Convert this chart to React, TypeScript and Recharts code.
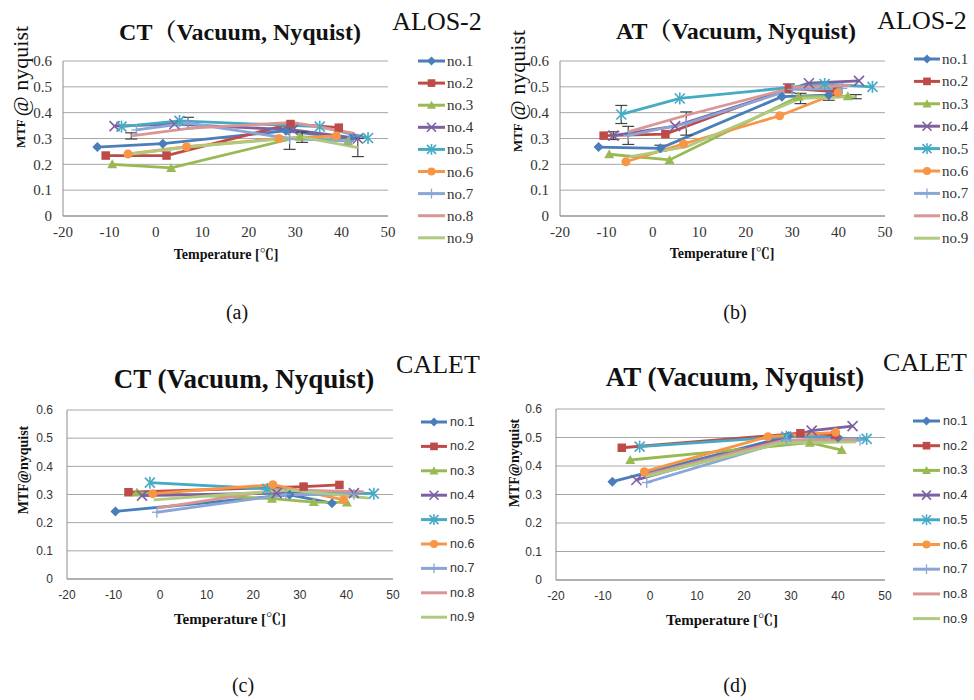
import React from "react";
import { LineChart, Line, XAxis, YAxis, CartesianGrid, ErrorBar } from "recharts";

type Pt = { x: number; y: number; e?: number };

const seriesNames = ["no.1", "no.2", "no.3", "no.4", "no.5", "no.6", "no.7", "no.8", "no.9"];
const seriesColors = ["#4A7EBB", "#BE4B48", "#98B954", "#7D60A0", "#46AAC5", "#F79646", "#8AA6D6", "#D99694", "#AFCA7E"];
const seriesMarkers = ["diamond", "square", "triangle", "cross", "star", "circle", "plus", "none", "none"];
const xTicks = [-20, -10, 0, 10, 20, 30, 40, 50];
const yTicks = [0, 0.1, 0.2, 0.3, 0.4, 0.5, 0.6];

// (a) CT, ALOS-2
const ctAlos: Pt[][] = [
  [{ x: -12.6, y: 0.267 }, { x: 1.5, y: 0.28 }, { x: 28, y: 0.33 }, { x: 42, y: 0.3 }],
  [{ x: -10.8, y: 0.234 }, { x: 2.3, y: 0.234 }, { x: 29, y: 0.356 }, { x: 39.4, y: 0.342 }],
  [{ x: -9.4, y: 0.2 }, { x: 3.3, y: 0.186 }, { x: 31, y: 0.307 }, { x: 41.4, y: 0.29 }],
  [{ x: -8.9, y: 0.348 }, { x: 4, y: 0.356 }, { x: 29.5, y: 0.333 }, { x: 43.5, y: 0.3 }],
  [{ x: -7.4, y: 0.346 }, { x: 5.1, y: 0.368 }, { x: 35.3, y: 0.346 }, { x: 45.7, y: 0.302 }],
  [{ x: -6, y: 0.24 }, { x: 6.6, y: 0.268 }, { x: 26.5, y: 0.3 }, { x: 38.9, y: 0.31 }],
  [{ x: -4.2, y: 0.333 }, { x: 6.9, y: 0.36, e: 0.022 }, { x: 28.8, y: 0.3, e: 0.042 }, { x: 41.7, y: 0.29 }],
  [{ x: -5.3, y: 0.31, e: 0.012 }, { x: 7.6, y: 0.34 }, { x: 29.5, y: 0.362 }, { x: 42.8, y: 0.32 }],
  [{ x: -5.3, y: 0.24 }, { x: 7.3, y: 0.268 }, { x: 31.5, y: 0.305, e: 0.02 }, { x: 43.5, y: 0.265, e: 0.035 }],
];

// (b) AT, ALOS-2
const atAlos: Pt[][] = [
  [{ x: -11.7, y: 0.267 }, { x: 1.6, y: 0.262, e: 0.012 }, { x: 27.8, y: 0.462 }, { x: 37.9, y: 0.468, e: 0.02 }],
  [{ x: -10.6, y: 0.311 }, { x: 2.7, y: 0.317 }, { x: 29.3, y: 0.494, e: 0.017 }, { x: 39.7, y: 0.481 }],
  [{ x: -9.4, y: 0.239 }, { x: 3.6, y: 0.217 }, { x: 31.4, y: 0.462 }, { x: 42, y: 0.464 }],
  [{ x: -8.5, y: 0.311, e: 0.015 }, { x: 4.8, y: 0.348 }, { x: 33.6, y: 0.514 }, { x: 44.4, y: 0.523 }],
  [{ x: -6.8, y: 0.393, e: 0.035 }, { x: 5.8, y: 0.455 }, { x: 37, y: 0.511 }, { x: 47.3, y: 0.5 }],
  [{ x: -5.8, y: 0.21 }, { x: 6.6, y: 0.279 }, { x: 27.3, y: 0.388 }, { x: 39.9, y: 0.477 }],
  [{ x: -5.3, y: 0.312, e: 0.035 }, { x: 7.2, y: 0.358, e: 0.045 }, { x: 30, y: 0.49 }, { x: 40.8, y: 0.494 }],
  [{ x: -5.3, y: 0.326 }, { x: 7.2, y: 0.39 }, { x: 30.4, y: 0.498 }, { x: 42.6, y: 0.507 }],
  [{ x: -4.9, y: 0.23 }, { x: 7.3, y: 0.268 }, { x: 31.8, y: 0.455, e: 0.02 }, { x: 43.7, y: 0.462, e: 0.008 }],
];

// (c) CT, CALET
const ctCalet: Pt[][] = [
  [{ x: -9.6, y: 0.24 }, { x: 27.8, y: 0.299 }, { x: 36.9, y: 0.269 }],
  [{ x: -6.8, y: 0.308 }, { x: 30.8, y: 0.328 }, { x: 38.5, y: 0.334 }],
  [{ x: -5, y: 0.307 }, { x: 24, y: 0.285 }, { x: 33, y: 0.273 }, { x: 40.1, y: 0.272 }],
  [{ x: -3.9, y: 0.296 }, { x: 25, y: 0.305 }, { x: 41.6, y: 0.305 }],
  [{ x: -2.2, y: 0.342 }, { x: 23, y: 0.32 }, { x: 45.9, y: 0.303 }],
  [{ x: -1.6, y: 0.303 }, { x: 24.2, y: 0.335 }, { x: 39.4, y: 0.281 }],
  [{ x: -0.7, y: 0.237 }, { x: 27, y: 0.3 }, { x: 41.6, y: 0.3 }],
  [{ x: -0.7, y: 0.252 }, { x: 25, y: 0.316 }, { x: 43.7, y: 0.31 }],
  [{ x: -1.4, y: 0.281 }, { x: 28, y: 0.316 }, { x: 44.8, y: 0.287 }],
];

// (d) AT, CALET
const atCalet: Pt[][] = [
  [{ x: -8, y: 0.345 }, { x: 29.5, y: 0.505 }, { x: 40, y: 0.5 }],
  [{ x: -6, y: 0.464 }, { x: 32, y: 0.515 }, { x: 39.4, y: 0.509 }],
  [{ x: -4.2, y: 0.421 }, { x: 34, y: 0.482 }, { x: 40.8, y: 0.456 }],
  [{ x: -2.9, y: 0.351 }, { x: 34.4, y: 0.524 }, { x: 43.1, y: 0.54 }],
  [{ x: -2.2, y: 0.468 }, { x: 29, y: 0.503 }, { x: 46.1, y: 0.495 }],
  [{ x: -1.2, y: 0.38 }, { x: 25.1, y: 0.503 }, { x: 39.5, y: 0.518 }],
  [{ x: -0.7, y: 0.342 }, { x: 29.1, y: 0.49 }, { x: 44.7, y: 0.49 }],
  [{ x: -1, y: 0.368 }, { x: 28.4, y: 0.49 }, { x: 43.9, y: 0.494 }],
  [{ x: -1, y: 0.363 }, { x: 27.7, y: 0.48 }, { x: 43.9, y: 0.485 }],
];

const SERIF = "'Liberation Serif', 'Noto Serif CJK JP', serif";
const SANS = "'Liberation Sans', Arial, sans-serif";

function Marker({ kind, cx, cy, color, s }: { kind: string; cx: number; cy: number; color: string; s: number }) {
  switch (kind) {
    case "diamond":
      return <path d={`M${cx},${cy - s} L${cx + s},${cy} L${cx},${cy + s} L${cx - s},${cy} Z`} fill={color} />;
    case "square":
      return <rect x={cx - s * 0.85} y={cy - s * 0.85} width={s * 1.7} height={s * 1.7} fill={color} />;
    case "triangle":
      return <path d={`M${cx},${cy - s} L${cx + s},${cy + s * 0.8} L${cx - s},${cy + s * 0.8} Z`} fill={color} />;
    case "cross":
      return (
        <g stroke={color} strokeWidth={1.6}>
          <line x1={cx - s} y1={cy - s} x2={cx + s} y2={cy + s} />
          <line x1={cx - s} y1={cy + s} x2={cx + s} y2={cy - s} />
        </g>
      );
    case "star":
      return (
        <g stroke={color} strokeWidth={1.6}>
          <line x1={cx - s} y1={cy - s} x2={cx + s} y2={cy + s} />
          <line x1={cx - s} y1={cy + s} x2={cx + s} y2={cy - s} />
          <line x1={cx} y1={cy - s * 1.2} x2={cx} y2={cy + s * 1.2} />
        </g>
      );
    case "circle":
      return <circle cx={cx} cy={cy} r={s * 0.9} fill={color} />;
    case "plus":
      return (
        <g stroke={color} strokeWidth={1.3}>
          <line x1={cx - s} y1={cy} x2={cx + s} y2={cy} />
          <line x1={cx} y1={cy - s * 1.1} x2={cx} y2={cy + s * 1.1} />
        </g>
      );
    default:
      return null;
  }
}

type Rect = { l: number; t: number; r: number; b: number };

function Panel({ data, plot, serif }: { data: Pt[][]; plot: Rect; serif: boolean }) {
  const w = plot.r - plot.l + 50;
  const h = plot.b - plot.t + 40;
  const tickStyle = serif
    ? { fontFamily: SERIF, fontSize: 15, fill: "#333" }
    : { fontFamily: SANS, fontSize: 12, fill: "#333" };
  return (
    <div style={{ position: "absolute", left: plot.l - 40, top: plot.t - 10 }}>
      <LineChart width={w} height={h} margin={{ top: 10, right: 10, left: 0, bottom: 0 }}>
        <CartesianGrid vertical={false} stroke="#A6A6A6" />
        <XAxis
          type="number"
          dataKey="x"
          domain={[-20, 50]}
          ticks={xTicks}
          allowDuplicatedCategory={false}
          height={30}
          tickSize={0}
          tickMargin={serif ? 10 : 11}
          tick={tickStyle}
          stroke="#8C8C8C"
          interval={0}
        />
        <YAxis
          type="number"
          domain={[0, 0.6]}
          ticks={yTicks}
          width={40}
          tickSize={0}
          tickMargin={serif ? 11 : 14}
          tick={tickStyle}
          stroke="#8C8C8C"
          tickFormatter={(v: number) => (v === 0 ? "0" : v.toFixed(1))}
          interval={0}
        />
        {data.map((pts, i) => (
          <Line
            key={seriesNames[i]}
            data={pts}
            dataKey="y"
            name={seriesNames[i]}
            stroke={seriesColors[i]}
            strokeWidth={2.8}
            isAnimationActive={false}
            dot={
              seriesMarkers[i] === "none"
                ? false
                : (p: any) => (
                    <Marker key={`m${i}-${p.index}`} kind={seriesMarkers[i]} cx={p.cx} cy={p.cy} color={seriesColors[i]} s={5} />
                  )
            }
            activeDot={false}
          >
            {serif && <ErrorBar dataKey="e" direction="y" width={6} strokeWidth={1.2} stroke="#444" />}
          </Line>
        ))}
      </LineChart>
    </div>
  );
}

function Legend({ x1, x2, tx, y0, dy, serif }: { x1: number; x2: number; tx: number; y0: number; dy: number; serif: boolean }) {
  return (
    <g>
      {seriesNames.map((n, i) => {
        const y = y0 + i * dy;
        return (
          <g key={n}>
            <line x1={x1} y1={y} x2={x2} y2={y} stroke={seriesColors[i]} strokeWidth={3} />
            <Marker kind={seriesMarkers[i]} cx={(x1 + x2) / 2} cy={y} color={seriesColors[i]} s={4.5} />
            <text
              x={tx}
              y={y}
              dominantBaseline="central"
              fontFamily={serif ? SERIF : SANS}
              fontSize={serif ? 15 : 12.5}
              fill="#333"
            >
              {n}
            </text>
          </g>
        );
      })}
    </g>
  );
}

export default function App() {
  return (
    <div style={{ position: "absolute", left: 0, top: 0, width: 974, height: 700, background: "#fff", overflow: "hidden" }}>
      <Panel data={ctAlos} plot={{ l: 63, t: 61, r: 388, b: 216 }} serif />
      <Panel data={atAlos} plot={{ l: 560, t: 61, r: 885, b: 216 }} serif />
      <Panel data={ctCalet} plot={{ l: 67, t: 410, r: 393, b: 579 }} serif={false} />
      <Panel data={atCalet} plot={{ l: 556, t: 409, r: 885, b: 580 }} serif={false} />
      <svg width={974} height={700} style={{ position: "absolute", left: 0, top: 0, pointerEvents: "none" }}>
        <g fontFamily={SERIF} fill="#111" textAnchor="middle" dominantBaseline="central">
          {/* titles */}
          <text x={240} y={32} fontSize={24} fontWeight="bold">CT（Vacuum, Nyquist)</text>
          <text x={736} y={31} fontSize={24} fontWeight="bold">AT（Vacuum, Nyquist)</text>
          <text x={244} y={379} fontSize={27} fontWeight="bold">CT (Vacuum, Nyquist)</text>
          <text x={735} y={377} fontSize={27} fontWeight="bold">AT (Vacuum, Nyquist)</text>
          <text x={437} y={21} fontSize={26}>ALOS-2</text>
          <text x={922} y={20} fontSize={26}>ALOS-2</text>
          <text x={438} y={364} fontSize={26}>CALET</text>
          <text x={925} y={362} fontSize={26}>CALET</text>
          {/* x labels */}
          <text x={226} y={254} fontSize={14} fontWeight="bold">Temperature [℃]</text>
          <text x={722} y={253} fontSize={14} fontWeight="bold">Temperature [℃]</text>
          <text x={230} y={619} fontSize={15} fontWeight="bold">Temperature [℃]</text>
          <text x={722} y={620} fontSize={15} fontWeight="bold">Temperature [℃]</text>
          {/* y labels */}
          <text transform="translate(20,87) rotate(-90)">
            <tspan fontSize={13} fontWeight="bold">MTF </tspan>
            <tspan fontSize={22}>@ nyquist</tspan>
          </text>
          <text transform="translate(517,91) rotate(-90)">
            <tspan fontSize={13} fontWeight="bold">MTF </tspan>
            <tspan fontSize={22}>@ nyquist</tspan>
          </text>
          <text transform="translate(23,470) rotate(-90)" fontSize={14} fontWeight="bold">MTF@nyquist</text>
          <text transform="translate(514,463) rotate(-90)" fontSize={14} fontWeight="bold">MTF@nyquist</text>
          {/* sub-figure labels */}
          <text x={237} y={312} fontSize={20}>(a)</text>
          <text x={735} y={312} fontSize={20}>(b)</text>
          <text x={243} y={685} fontSize={20}>(c)</text>
          <text x={735} y={685} fontSize={20}>(d)</text>
        </g>
        <Legend x1={418} x2={445} tx={447} y0={61} dy={22.1} serif />
        <Legend x1={914} x2={940} tx={942} y0={59} dy={22.4} serif />
        <Legend x1={421} x2={447} tx={450} y0={422} dy={24.4} serif={false} />
        <Legend x1={913} x2={940} tx={943} y0={421} dy={24.7} serif={false} />
      </svg>
    </div>
  );
}
